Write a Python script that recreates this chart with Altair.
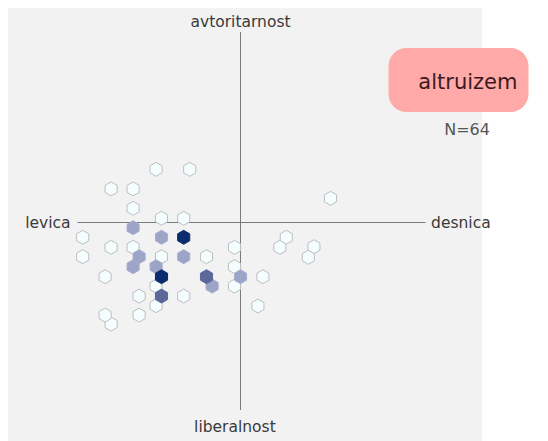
import altair as alt
import pandas as pd

# hexbin centres (axis units) and counts
hex_x = [-4.22, -2.54, -6.47, -5.37, 4.5, -5.37, -3.95, -2.84, -5.37, -7.89,
         -3.95, -2.84, 2.29, -6.47, -5.37, -0.3, 1.97, 3.67, -7.89, -5.07,
         -3.95, -2.84, -1.7, 3.39, -5.37, -4.22, -0.3, -6.77, -3.95, -1.7,
         0.0, 1.12, -4.22, -1.42, -0.3, -5.07, -3.95, -2.84, -4.22, 0.87,
         -6.77, -5.07, -6.47]
hex_y = [2.66, 2.66, 1.68, 1.68, 1.21, 0.71, 0.21, 0.21, -0.26, -0.74,
         -0.74, -0.74, -0.74, -1.24, -1.24, -1.24, -1.24, -1.21, -1.71, -1.71,
         -1.71, -1.71, -1.71, -1.74, -2.21, -2.21, -2.21, -2.71, -2.71, -2.71,
         -2.71, -2.71, -3.18, -3.18, -3.18, -3.68, -3.68, -3.68, -4.16, -4.18,
         -4.63, -4.63, -5.08]
hex_n = [1, 1, 1, 1, 1, 1, 1, 1, 2, 1,
         2, 5, 1, 1, 1, 1, 1, 1, 1, 2,
         1, 2, 1, 1, 2, 2, 1, 1, 5, 3,
         2, 1, 1, 2, 1, 1, 3, 1, 1, 1,
         1, 1, 1]

axis_labels = ["avtoritarnost", "liberalnost", "levica", "desnica"]
axis_lab_x = [0.0, -0.28, -8.5, 9.53]
axis_lab_y = [10.02, -10.21, 0.0, 0.0]
axis_lab_align = ["center", "center", "right", "left"]

title_text = "altruizem"
n_text = "N=64"

hexdf = pd.DataFrame({"x": hex_x, "y": hex_y, "n": hex_n}).sort_values("n")
labdf = pd.DataFrame({"t": axis_labels, "x": axis_lab_x, "y": axis_lab_y, "al": axis_lab_align})

XS = alt.Scale(domain=[-11.625, 12.075], nice=False, zero=False)
YS = alt.Scale(domain=[-10.925, 10.725], nice=False, zero=False)

hline = alt.Chart(pd.DataFrame({"x": [-8.15], "x2": [9.25], "y": [0]})).mark_rule(
    color="#7a7a7a", strokeWidth=1).encode(
    x=alt.X("x:Q", scale=XS, axis=None), x2="x2:Q", y=alt.Y("y:Q", scale=YS, axis=None))
vline = alt.Chart(pd.DataFrame({"x": [0], "y": [9.525], "y2": [-9.375]})).mark_rule(
    color="#7a7a7a", strokeWidth=1).encode(
    x=alt.X("x:Q", scale=XS, axis=None), y=alt.Y("y:Q", scale=YS, axis=None), y2="y2:Q")

hexpath = "M0,-1L0.866,-0.5L0.866,0.5L0,1L-0.866,0.5L-0.866,-0.5Z"
hexes = alt.Chart(hexdf).mark_point(shape=hexpath, filled=True, size=195, opacity=1,
                                    strokeWidth=1).encode(
    x=alt.X("x:Q", scale=XS, axis=None),
    y=alt.Y("y:Q", scale=YS, axis=None),
    fill=alt.Color("n:Q", scale=alt.Scale(domain=[1, 2, 3, 5],
                   range=["#ffffff", "#9ca5c8", "#5b6899", "#0b2d6e"]), legend=None),
    stroke=alt.Color("n:Q", scale=alt.Scale(domain=[1, 2, 3, 5],
                     range=["#bdbdbd", "#a7aecd", "#5b6899", "#0b2d6e"]), legend=None),
)

label_layers = []
for al in ["center", "right", "left"]:
    label_layers.append(
        alt.Chart(labdf[labdf["al"] == al]).mark_text(
            font="DejaVu Sans", fontSize=15.5, color="#3a3a3a", baseline="middle", align=al
        ).encode(
            x=alt.X("x:Q", scale=XS, axis=None), y=alt.Y("y:Q", scale=YS, axis=None),
            text="t:N")
    )

boxdf = pd.DataFrame({"x": [7.4], "x2": [14.4], "y": [8.725], "y2": [5.525]})
box = alt.Chart(boxdf).mark_rect(color="#ffa9a9", cornerRadius=18).encode(
    x=alt.X("x:Q", scale=XS, axis=None), x2="x2:Q",
    y=alt.Y("y:Q", scale=YS, axis=None), y2="y2:Q")

ttl = alt.Chart(pd.DataFrame({"t": [title_text], "x": [11.37], "y": [7.0]})).mark_text(
    font="DejaVu Sans", fontSize=21, color="#3b1a1c", baseline="middle", align="center").encode(
    x=alt.X("x:Q", scale=XS, axis=None), y=alt.Y("y:Q", scale=YS, axis=None), text="t:N")
ntxt = alt.Chart(pd.DataFrame({"t": [n_text], "x": [11.33], "y": [4.63]})).mark_text(
    font="DejaVu Sans", fontSize=16, color="#555555", baseline="middle", align="center").encode(
    x=alt.X("x:Q", scale=XS, axis=None), y=alt.Y("y:Q", scale=YS, axis=None), text="t:N")

chart = alt.layer(hline, vline, hexes, *label_layers, box, ttl, ntxt).properties(
    width=474, height=433, padding=0
).configure_view(fill="#f2f2f2", stroke=None)

chart.save("out.html", embed_options={"renderer": "svg", "actions": False})
